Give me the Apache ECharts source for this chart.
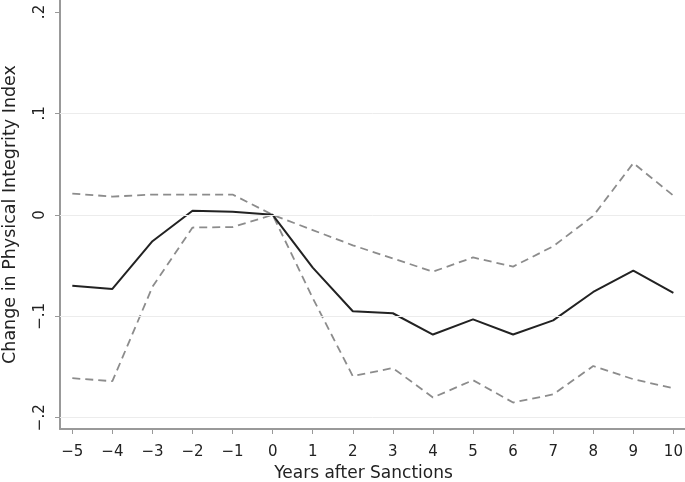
<!DOCTYPE html>
<html>
<head>
<meta charset="utf-8">
<script src="https://cdn.jsdelivr.net/npm/echarts@6/dist/echarts.min.js"></script>
<style>
html,body{margin:0;padding:0;background:#fff;}
#chart{width:685px;height:482px;}
</style>
</head>
<body>
<div id="chart"></div>
<script>
var years = [-5,-4,-3,-2,-1,0,1,2,3,4,5,6,7,8,9,10];
var estimate = [-0.070,-0.073,-0.026,0.004,0.003,0.000,-0.052,-0.095,-0.097,-0.118,-0.103,-0.118,-0.104,-0.076,-0.055,-0.077];
var upperCI = [0.021,0.018,0.020,0.020,0.020,0.000,-0.015,-0.030,-0.043,-0.056,-0.042,-0.051,-0.031,-0.001,0.051,0.019];
var lowerCI = [-0.161,-0.164,-0.071,-0.0125,-0.012,0.000,-0.082,-0.159,-0.151,-0.180,-0.163,-0.185,-0.177,-0.149,-0.162,-0.171];
var xTicks = [-5,-4,-3,-2,-1,0,1,2,3,4,5,6,7,8,9,10];
var yTicks = [-0.2,-0.1,0,0.1,0.2];
var yTickLabels = ['\u2212.2','\u2212.1','0','.1','.2'];
var yGridValues = [-0.2,-0.1,0,0.1];

function pairs(vals){ return years.map(function(x,i){ return [x, vals[i]]; }); }

var FONT = 'DejaVu Sans';
var chart = echarts.init(document.getElementById('chart'));
chart.setOption({
  animation:false,
  backgroundColor:'#ffffff',
  grid:{left:60,right:0,top:0,bottom:53,containLabel:false,outerBoundsMode:'none'},
  xAxis:{
    type:'value', min:-5.307, max:10.29,
    name:'Years after Sanctions', nameLocation:'middle', nameGap:34,
    nameTextStyle:{fontFamily:FONT,fontSize:17,color:'#222',padding:[0,18,0,0]},
    axisLine:{show:true,onZero:false,lineStyle:{color:'#999',width:2}},
    axisTick:{show:true,length:5,lineStyle:{color:'#999',width:1},customValues:xTicks},
    axisLabel:{fontFamily:FONT,fontSize:15,color:'#222',margin:16,customValues:xTicks,
      formatter:function(v){ return String(v).replace('-','\u2212'); }},
    splitLine:{show:false}
  },
  yAxis:{
    type:'value', min:-0.2111, max:0.2118,
    name:'Change in Physical Integrity Index', nameLocation:'middle', nameGap:41, nameRotate:90,
    nameTextStyle:{fontFamily:FONT,fontSize:17.5,color:'#222'},
    axisLine:{show:true,onZero:false,lineStyle:{color:'#999',width:2}},
    axisTick:{show:true,length:5,lineStyle:{color:'#999',width:1},customValues:yTicks},
    axisLabel:{fontFamily:FONT,fontSize:15,color:'#222',margin:12,rotate:90,customValues:yTicks,
      formatter:function(v){
        for(var i=0;i<yTicks.length;i++){ if(Math.abs(yTicks[i]-v)<1e-9) return yTickLabels[i]; }
        return '';
      }},
    splitLine:{show:false}
  },
  series:[
    {
      type:'line', data:[], silent:true,
      markLine:{silent:true,symbol:['none','none'],label:{show:false},
        lineStyle:{color:'#ececec',width:1,type:'solid'},
        data:yGridValues.map(function(v){ return {yAxis:v}; })}
    },
    {type:'line', data:pairs(upperCI), symbol:'none', lineStyle:{color:'#8c8c8c',width:1.8,type:[8,5]}, z:3},
    {type:'line', data:pairs(lowerCI), symbol:'none', lineStyle:{color:'#8c8c8c',width:1.8,type:[8,5]}, z:3},
    {type:'line', data:pairs(estimate), symbol:'none', lineStyle:{color:'#222222',width:2,type:'solid'}, z:4}
  ]
});
</script>
</body>
</html>
